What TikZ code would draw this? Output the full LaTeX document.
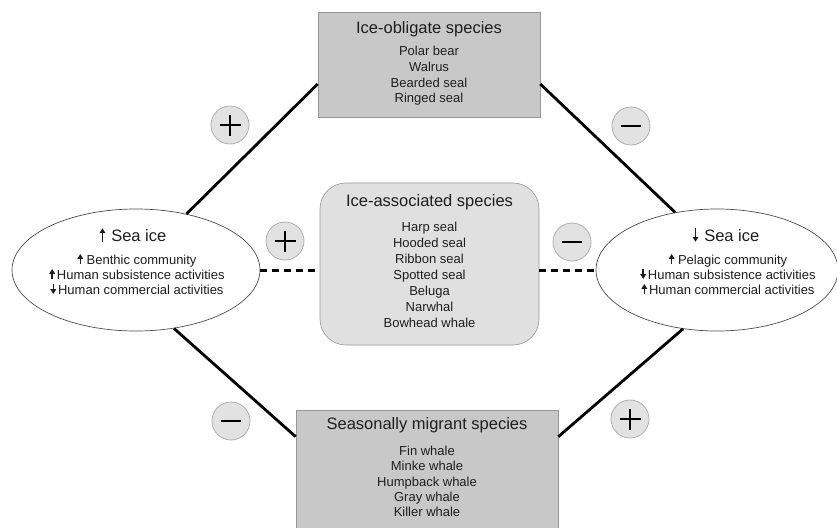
\documentclass[tikz,border=0pt]{standalone}
\usepackage{fontspec}
\setmainfont{Liberation Sans}
\usetikzlibrary{calc,arrows.meta,shapes.geometric}
\definecolor{darkbox}{RGB}{200,200,200}
\definecolor{lightbox}{RGB}{224,224,224}
\definecolor{circfill}{RGB}{226,226,226}
\definecolor{circline}{RGB}{175,175,175}
\definecolor{boxline}{RGB}{150,150,150}
\definecolor{txt}{RGB}{30,30,30}
\newcommand\arrU[1][10]{\tikz[baseline=0pt]\draw[line width=1.5pt,-{Triangle[length=4.8pt,width=5.6pt]}] (0pt,0pt)--(0pt,#1pt);}
\newcommand\arrD[1][10]{\tikz[baseline=0pt]\draw[line width=1.5pt,-{Triangle[length=4.8pt,width=5.6pt]}] (0pt,#1pt)--(0pt,0pt);}
\begin{document}
\begin{tikzpicture}[x=1pt,y=-1pt,
  obox/.style={draw=boxline, line width=0.6pt, fill=darkbox, inner sep=0pt},
  mbox/.style={draw=boxline, line width=0.6pt, fill=lightbox, inner sep=0pt, rounded corners=26pt},
  oval/.style={ellipse, draw=black!70, line width=0.7pt, fill=white, inner sep=0pt},
  title/.style={font=\fontsize{16.5}{19}\selectfont, text=txt, inner sep=0pt},
  items/.style={align=center, text=txt, inner sep=0pt},
  link/.style={line width=2.8pt, black},
  dashlink/.style={line width=3pt, black, dash pattern=on 7pt off 5pt},
  signc/.style={circle, draw=circline, line width=0.8pt, fill=circfill, minimum size=38pt, inner sep=0pt},
  sign/.style={line width=2.7pt, black}
]
\useasboundingbox (0,0) rectangle (837,527);
\clip (0,0) rectangle (837,527);

% boxes
\node[obox, minimum width=222pt, minimum height=105pt] (T) at (429,64.5) {};
\node[mbox, minimum width=219pt, minimum height=162pt] (M) at (429.5,264) {};
\node[obox, minimum width=262pt, minimum height=140pt] (B) at (427,480) {};

% ellipses
\node[oval, minimum width=248pt, minimum height=122pt] (L) at (136,270) {};
\node[oval, minimum width=242pt, minimum height=122pt] (R) at (717,270) {};

% connectors
\draw[link] (L.48) -- ($(T.west)+(0,19.5)$);
\draw[link] ($(T.east)+(0,19.5)$) -- (R.126);
\draw[link] (L.-57) -- ($(B.north west)+(0,27)$);
\draw[link] (R.240) -- ($(B.north east)+(0,27)$);
\draw[dashlink] (L.east) -- (L.east -| M.west);
\draw[dashlink] (M.east |- R.west) -- (R.west);

% texts
\node[title] (Tt) at (429,29) {Ice-obligate species};
\node[items, font=\fontsize{13}{15.7}\selectfont] (Ti) at (429,76)
  {Polar bear\\Walrus\\Bearded seal\\Ringed seal};
\node[title] (Mt) at (429.5,202) {Ice-associated species};
\node[items, font=\fontsize{13}{15.9}\selectfont] (Mi) at (429.5,275)
  {Harp seal\\Hooded seal\\Ribbon seal\\Spotted seal\\Beluga\\Narwhal\\Bowhead whale};
\node[title] (Bt) at (427,425) {Seasonally migrant species};
\node[items, font=\fontsize{13}{15.3}\selectfont] (Bi) at (427,481.5)
  {Fin whale\\Minke whale\\Humpback whale\\Gray whale\\Killer whale};

\node[title] (Lt) at (133,235) {\arrU[13.5]\hspace{6pt}Sea ice};
\node[items, font=\fontsize{13}{15}\selectfont] (Li) at (137,274)
  {\arrU\ Benthic community\\\arrU\hspace{2pt}Human subsistence activities\\\arrD\hspace{2pt}Human commercial activities};
\node[title] (Rt) at (726,235) {\arrD[13.5]\hspace{6pt}Sea ice};
\node[items, font=\fontsize{13}{15}\selectfont] (Ri) at (728,274)
  {\arrU\ Pelagic community\\\arrD\hspace{2pt}Human subsistence activities\\\arrU\hspace{2pt}Human commercial activities};

% sign circles
\node[signc] (P1) at (230,125) {};
\node[signc] (P2) at (631,126) {};
\node[signc] (P3) at (285,241) {};
\node[signc] (P4) at (572,242) {};
\node[signc] (P5) at (231,421) {};
\node[signc] (P6) at (630,419) {};
\draw[sign] (P1.center) +(-10.5,0) -- +(10.5,0) (P1.center) +(0,-10.5) -- +(0,10.5);
\draw[sign] (P3.center) +(-10.5,0) -- +(10.5,0) (P3.center) +(0,-10.5) -- +(0,10.5);
\draw[sign] (P6.center) +(-10.5,0) -- +(10.5,0) (P6.center) +(0,-10.5) -- +(0,10.5);
\draw[sign] (P2.center) +(-10,0) -- +(10,0);
\draw[sign] (P4.center) +(-10,0) -- +(10,0);
\draw[sign] (P5.center) +(-10,0) -- +(10,0);
\end{tikzpicture}
\end{document}
